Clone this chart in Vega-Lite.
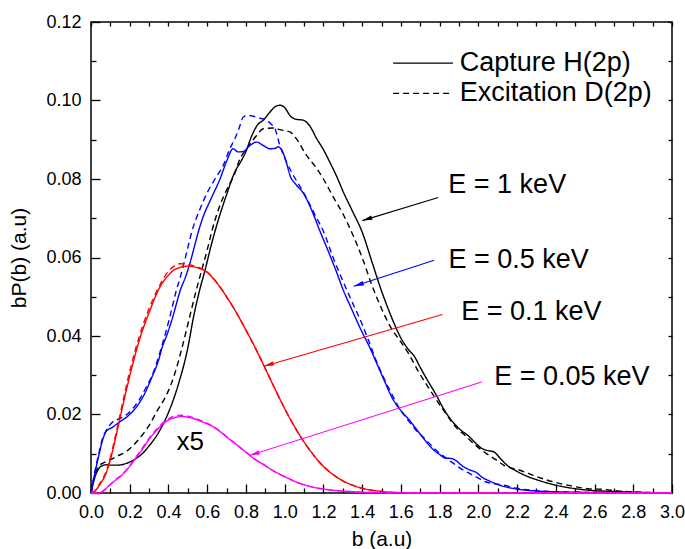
{
  "$schema": "https://vega.github.io/schema/vega-lite/v6.json",
  "autosize": {"type": "none"},
  "width": 581,
  "height": 471,
  "padding": {"left": 91, "top": 22, "right": 13, "bottom": 56},
  "background": "white",
  "config": {
    "font": "Liberation Sans",
    "view": {"stroke": "black", "strokeWidth": 1.5},
    "axis": {"grid": false, "domain": false, "tickColor": "black", "tickWidth": 1.3, "labelColor": "black", "titleColor": "black", "labelFont": "Liberation Sans", "titleFont": "Liberation Sans", "titleFontWeight": "normal"}
  },
  "datasets": {
    "curves": [
      {"E":"1 keV","type":"Capture","b":0.00,"y":0.0000},{"E":"1 keV","type":"Capture","b":0.02,"y":0.0040},{"E":"1 keV","type":"Capture","b":0.04,"y":0.0062},{"E":"1 keV","type":"Capture","b":0.06,"y":0.0070},{"E":"1 keV","type":"Capture","b":0.08,"y":0.0072},{"E":"1 keV","type":"Capture","b":0.10,"y":0.0071},{"E":"1 keV","type":"Capture","b":0.14,"y":0.0071},{"E":"1 keV","type":"Capture","b":0.18,"y":0.0075},{"E":"1 keV","type":"Capture","b":0.22,"y":0.0084},{"E":"1 keV","type":"Capture","b":0.26,"y":0.0098},{"E":"1 keV","type":"Capture","b":0.30,"y":0.0120},{"E":"1 keV","type":"Capture","b":0.35,"y":0.0155},{"E":"1 keV","type":"Capture","b":0.40,"y":0.0205},{"E":"1 keV","type":"Capture","b":0.45,"y":0.0275},{"E":"1 keV","type":"Capture","b":0.50,"y":0.0370},{"E":"1 keV","type":"Capture","b":0.53,"y":0.0450},{"E":"1 keV","type":"Capture","b":0.56,"y":0.0515},{"E":"1 keV","type":"Capture","b":0.59,"y":0.0570},{"E":"1 keV","type":"Capture","b":0.62,"y":0.0630},{"E":"1 keV","type":"Capture","b":0.66,"y":0.0700},{"E":"1 keV","type":"Capture","b":0.70,"y":0.0760},{"E":"1 keV","type":"Capture","b":0.74,"y":0.0815},{"E":"1 keV","type":"Capture","b":0.78,"y":0.0850},{"E":"1 keV","type":"Capture","b":0.80,"y":0.0870},{"E":"1 keV","type":"Capture","b":0.83,"y":0.0910},{"E":"1 keV","type":"Capture","b":0.86,"y":0.0938},{"E":"1 keV","type":"Capture","b":0.89,"y":0.0950},{"E":"1 keV","type":"Capture","b":0.92,"y":0.0968},{"E":"1 keV","type":"Capture","b":0.95,"y":0.0984},{"E":"1 keV","type":"Capture","b":0.975,"y":0.0988},{"E":"1 keV","type":"Capture","b":1.00,"y":0.0982},{"E":"1 keV","type":"Capture","b":1.03,"y":0.0960},{"E":"1 keV","type":"Capture","b":1.06,"y":0.0952},{"E":"1 keV","type":"Capture","b":1.095,"y":0.0950},{"E":"1 keV","type":"Capture","b":1.13,"y":0.0935},{"E":"1 keV","type":"Capture","b":1.165,"y":0.0903},{"E":"1 keV","type":"Capture","b":1.20,"y":0.0875},{"E":"1 keV","type":"Capture","b":1.233,"y":0.0843},{"E":"1 keV","type":"Capture","b":1.27,"y":0.0805},{"E":"1 keV","type":"Capture","b":1.30,"y":0.0770},{"E":"1 keV","type":"Capture","b":1.35,"y":0.0718},{"E":"1 keV","type":"Capture","b":1.40,"y":0.0665},{"E":"1 keV","type":"Capture","b":1.45,"y":0.0590},{"E":"1 keV","type":"Capture","b":1.50,"y":0.0515},{"E":"1 keV","type":"Capture","b":1.55,"y":0.0450},{"E":"1 keV","type":"Capture","b":1.60,"y":0.0395},{"E":"1 keV","type":"Capture","b":1.64,"y":0.0365},{"E":"1 keV","type":"Capture","b":1.67,"y":0.0348},{"E":"1 keV","type":"Capture","b":1.70,"y":0.0320},{"E":"1 keV","type":"Capture","b":1.74,"y":0.0285},{"E":"1 keV","type":"Capture","b":1.78,"y":0.0252},{"E":"1 keV","type":"Capture","b":1.82,"y":0.0215},{"E":"1 keV","type":"Capture","b":1.87,"y":0.0180},{"E":"1 keV","type":"Capture","b":1.91,"y":0.0160},{"E":"1 keV","type":"Capture","b":1.95,"y":0.0145},{"E":"1 keV","type":"Capture","b":1.99,"y":0.0125},{"E":"1 keV","type":"Capture","b":2.02,"y":0.0113},{"E":"1 keV","type":"Capture","b":2.05,"y":0.0108},{"E":"1 keV","type":"Capture","b":2.08,"y":0.0105},{"E":"1 keV","type":"Capture","b":2.11,"y":0.0090},{"E":"1 keV","type":"Capture","b":2.15,"y":0.0070},{"E":"1 keV","type":"Capture","b":2.20,"y":0.0055},{"E":"1 keV","type":"Capture","b":2.25,"y":0.0043},{"E":"1 keV","type":"Capture","b":2.30,"y":0.0034},{"E":"1 keV","type":"Capture","b":2.40,"y":0.0020},{"E":"1 keV","type":"Capture","b":2.50,"y":0.0011},{"E":"1 keV","type":"Capture","b":2.60,"y":0.0006},{"E":"1 keV","type":"Capture","b":2.70,"y":0.0004},{"E":"1 keV","type":"Capture","b":2.80,"y":0.0002},{"E":"1 keV","type":"Capture","b":2.90,"y":0.0001},{"E":"1 keV","type":"Capture","b":3.00,"y":0.0000},

      {"E":"1 keV","type":"Excitation","b":0.00,"y":0.0000},{"E":"1 keV","type":"Excitation","b":0.02,"y":0.0045},{"E":"1 keV","type":"Excitation","b":0.04,"y":0.0068},{"E":"1 keV","type":"Excitation","b":0.07,"y":0.0078},{"E":"1 keV","type":"Excitation","b":0.10,"y":0.0085},{"E":"1 keV","type":"Excitation","b":0.14,"y":0.0095},{"E":"1 keV","type":"Excitation","b":0.18,"y":0.0105},{"E":"1 keV","type":"Excitation","b":0.22,"y":0.0122},{"E":"1 keV","type":"Excitation","b":0.26,"y":0.0145},{"E":"1 keV","type":"Excitation","b":0.30,"y":0.0172},{"E":"1 keV","type":"Excitation","b":0.34,"y":0.0208},{"E":"1 keV","type":"Excitation","b":0.39,"y":0.0250},{"E":"1 keV","type":"Excitation","b":0.43,"y":0.0300},{"E":"1 keV","type":"Excitation","b":0.47,"y":0.0370},{"E":"1 keV","type":"Excitation","b":0.51,"y":0.0450},{"E":"1 keV","type":"Excitation","b":0.54,"y":0.0510},{"E":"1 keV","type":"Excitation","b":0.57,"y":0.0565},{"E":"1 keV","type":"Excitation","b":0.60,"y":0.0619},{"E":"1 keV","type":"Excitation","b":0.623,"y":0.0665},{"E":"1 keV","type":"Excitation","b":0.66,"y":0.0725},{"E":"1 keV","type":"Excitation","b":0.70,"y":0.0772},{"E":"1 keV","type":"Excitation","b":0.743,"y":0.0815},{"E":"1 keV","type":"Excitation","b":0.768,"y":0.0850},{"E":"1 keV","type":"Excitation","b":0.80,"y":0.0875},{"E":"1 keV","type":"Excitation","b":0.83,"y":0.0895},{"E":"1 keV","type":"Excitation","b":0.855,"y":0.0911},{"E":"1 keV","type":"Excitation","b":0.889,"y":0.0928},{"E":"1 keV","type":"Excitation","b":0.94,"y":0.0930},{"E":"1 keV","type":"Excitation","b":0.98,"y":0.0925},{"E":"1 keV","type":"Excitation","b":1.027,"y":0.0920},{"E":"1 keV","type":"Excitation","b":1.06,"y":0.0903},{"E":"1 keV","type":"Excitation","b":1.113,"y":0.0860},{"E":"1 keV","type":"Excitation","b":1.165,"y":0.0827},{"E":"1 keV","type":"Excitation","b":1.20,"y":0.0800},{"E":"1 keV","type":"Excitation","b":1.25,"y":0.0755},{"E":"1 keV","type":"Excitation","b":1.30,"y":0.0712},{"E":"1 keV","type":"Excitation","b":1.35,"y":0.0660},{"E":"1 keV","type":"Excitation","b":1.40,"y":0.0600},{"E":"1 keV","type":"Excitation","b":1.45,"y":0.0530},{"E":"1 keV","type":"Excitation","b":1.50,"y":0.0470},{"E":"1 keV","type":"Excitation","b":1.55,"y":0.0420},{"E":"1 keV","type":"Excitation","b":1.60,"y":0.0385},{"E":"1 keV","type":"Excitation","b":1.64,"y":0.0355},{"E":"1 keV","type":"Excitation","b":1.69,"y":0.0310},{"E":"1 keV","type":"Excitation","b":1.76,"y":0.0255},{"E":"1 keV","type":"Excitation","b":1.83,"y":0.0204},{"E":"1 keV","type":"Excitation","b":1.88,"y":0.0170},{"E":"1 keV","type":"Excitation","b":1.935,"y":0.0145},{"E":"1 keV","type":"Excitation","b":1.99,"y":0.0120},{"E":"1 keV","type":"Excitation","b":2.04,"y":0.0101},{"E":"1 keV","type":"Excitation","b":2.09,"y":0.0085},{"E":"1 keV","type":"Excitation","b":2.13,"y":0.0071},{"E":"1 keV","type":"Excitation","b":2.215,"y":0.0058},{"E":"1 keV","type":"Excitation","b":2.30,"y":0.0042},{"E":"1 keV","type":"Excitation","b":2.39,"y":0.0028},{"E":"1 keV","type":"Excitation","b":2.48,"y":0.0018},{"E":"1 keV","type":"Excitation","b":2.565,"y":0.0011},{"E":"1 keV","type":"Excitation","b":2.65,"y":0.0009},{"E":"1 keV","type":"Excitation","b":2.72,"y":0.0005},{"E":"1 keV","type":"Excitation","b":2.80,"y":0.0003},{"E":"1 keV","type":"Excitation","b":2.90,"y":0.0001},{"E":"1 keV","type":"Excitation","b":3.00,"y":0.0000},

      {"E":"0.5 keV","type":"Capture","b":0.00,"y":0.0000},{"E":"0.5 keV","type":"Capture","b":0.02,"y":0.0050},{"E":"0.5 keV","type":"Capture","b":0.04,"y":0.0095},{"E":"0.5 keV","type":"Capture","b":0.06,"y":0.0135},{"E":"0.5 keV","type":"Capture","b":0.08,"y":0.0158},{"E":"0.5 keV","type":"Capture","b":0.11,"y":0.0167},{"E":"0.5 keV","type":"Capture","b":0.145,"y":0.0180},{"E":"0.5 keV","type":"Capture","b":0.18,"y":0.0192},{"E":"0.5 keV","type":"Capture","b":0.21,"y":0.0205},{"E":"0.5 keV","type":"Capture","b":0.25,"y":0.0230},{"E":"0.5 keV","type":"Capture","b":0.28,"y":0.0256},{"E":"0.5 keV","type":"Capture","b":0.31,"y":0.0290},{"E":"0.5 keV","type":"Capture","b":0.35,"y":0.0340},{"E":"0.5 keV","type":"Capture","b":0.37,"y":0.0375},{"E":"0.5 keV","type":"Capture","b":0.39,"y":0.0400},{"E":"0.5 keV","type":"Capture","b":0.42,"y":0.0445},{"E":"0.5 keV","type":"Capture","b":0.44,"y":0.0480},{"E":"0.5 keV","type":"Capture","b":0.46,"y":0.0515},{"E":"0.5 keV","type":"Capture","b":0.49,"y":0.0553},{"E":"0.5 keV","type":"Capture","b":0.51,"y":0.0584},{"E":"0.5 keV","type":"Capture","b":0.535,"y":0.0630},{"E":"0.5 keV","type":"Capture","b":0.554,"y":0.0665},{"E":"0.5 keV","type":"Capture","b":0.58,"y":0.0705},{"E":"0.5 keV","type":"Capture","b":0.62,"y":0.0750},{"E":"0.5 keV","type":"Capture","b":0.666,"y":0.0800},{"E":"0.5 keV","type":"Capture","b":0.70,"y":0.0845},{"E":"0.5 keV","type":"Capture","b":0.734,"y":0.0877},{"E":"0.5 keV","type":"Capture","b":0.76,"y":0.0869},{"E":"0.5 keV","type":"Capture","b":0.786,"y":0.0870},{"E":"0.5 keV","type":"Capture","b":0.82,"y":0.0885},{"E":"0.5 keV","type":"Capture","b":0.855,"y":0.0894},{"E":"0.5 keV","type":"Capture","b":0.89,"y":0.0885},{"E":"0.5 keV","type":"Capture","b":0.924,"y":0.0877},{"E":"0.5 keV","type":"Capture","b":0.95,"y":0.0878},{"E":"0.5 keV","type":"Capture","b":0.966,"y":0.0882},{"E":"0.5 keV","type":"Capture","b":0.99,"y":0.0869},{"E":"0.5 keV","type":"Capture","b":1.01,"y":0.0840},{"E":"0.5 keV","type":"Capture","b":1.027,"y":0.0810},{"E":"0.5 keV","type":"Capture","b":1.06,"y":0.0785},{"E":"0.5 keV","type":"Capture","b":1.095,"y":0.0765},{"E":"0.5 keV","type":"Capture","b":1.14,"y":0.0720},{"E":"0.5 keV","type":"Capture","b":1.18,"y":0.0670},{"E":"0.5 keV","type":"Capture","b":1.23,"y":0.0610},{"E":"0.5 keV","type":"Capture","b":1.27,"y":0.0560},{"E":"0.5 keV","type":"Capture","b":1.30,"y":0.0520},{"E":"0.5 keV","type":"Capture","b":1.34,"y":0.0475},{"E":"0.5 keV","type":"Capture","b":1.39,"y":0.0420},{"E":"0.5 keV","type":"Capture","b":1.44,"y":0.0370},{"E":"0.5 keV","type":"Capture","b":1.48,"y":0.0325},{"E":"0.5 keV","type":"Capture","b":1.52,"y":0.0280},{"E":"0.5 keV","type":"Capture","b":1.55,"y":0.0247},{"E":"0.5 keV","type":"Capture","b":1.60,"y":0.0210},{"E":"0.5 keV","type":"Capture","b":1.64,"y":0.0188},{"E":"0.5 keV","type":"Capture","b":1.70,"y":0.0150},{"E":"0.5 keV","type":"Capture","b":1.76,"y":0.0114},{"E":"0.5 keV","type":"Capture","b":1.80,"y":0.0098},{"E":"0.5 keV","type":"Capture","b":1.83,"y":0.0089},{"E":"0.5 keV","type":"Capture","b":1.86,"y":0.0088},{"E":"0.5 keV","type":"Capture","b":1.88,"y":0.0084},{"E":"0.5 keV","type":"Capture","b":1.92,"y":0.0068},{"E":"0.5 keV","type":"Capture","b":1.95,"y":0.0060},{"E":"0.5 keV","type":"Capture","b":1.99,"y":0.0052},{"E":"0.5 keV","type":"Capture","b":2.02,"y":0.0040},{"E":"0.5 keV","type":"Capture","b":2.06,"y":0.0030},{"E":"0.5 keV","type":"Capture","b":2.13,"y":0.0017},{"E":"0.5 keV","type":"Capture","b":2.20,"y":0.0010},{"E":"0.5 keV","type":"Capture","b":2.30,"y":0.0005},{"E":"0.5 keV","type":"Capture","b":2.50,"y":0.0002},{"E":"0.5 keV","type":"Capture","b":2.70,"y":0.0001},{"E":"0.5 keV","type":"Capture","b":3.00,"y":0.0000},

      {"E":"0.5 keV","type":"Excitation","b":0.00,"y":0.0000},{"E":"0.5 keV","type":"Excitation","b":0.02,"y":0.0055},{"E":"0.5 keV","type":"Excitation","b":0.04,"y":0.0100},{"E":"0.5 keV","type":"Excitation","b":0.06,"y":0.0140},{"E":"0.5 keV","type":"Excitation","b":0.08,"y":0.0160},{"E":"0.5 keV","type":"Excitation","b":0.11,"y":0.0180},{"E":"0.5 keV","type":"Excitation","b":0.15,"y":0.0190},{"E":"0.5 keV","type":"Excitation","b":0.18,"y":0.0198},{"E":"0.5 keV","type":"Excitation","b":0.21,"y":0.0212},{"E":"0.5 keV","type":"Excitation","b":0.25,"y":0.0238},{"E":"0.5 keV","type":"Excitation","b":0.28,"y":0.0265},{"E":"0.5 keV","type":"Excitation","b":0.32,"y":0.0305},{"E":"0.5 keV","type":"Excitation","b":0.36,"y":0.0365},{"E":"0.5 keV","type":"Excitation","b":0.40,"y":0.0435},{"E":"0.5 keV","type":"Excitation","b":0.42,"y":0.0475},{"E":"0.5 keV","type":"Excitation","b":0.44,"y":0.0515},{"E":"0.5 keV","type":"Excitation","b":0.46,"y":0.0548},{"E":"0.5 keV","type":"Excitation","b":0.476,"y":0.0578},{"E":"0.5 keV","type":"Excitation","b":0.50,"y":0.0625},{"E":"0.5 keV","type":"Excitation","b":0.52,"y":0.0665},{"E":"0.5 keV","type":"Excitation","b":0.56,"y":0.0720},{"E":"0.5 keV","type":"Excitation","b":0.60,"y":0.0765},{"E":"0.5 keV","type":"Excitation","b":0.64,"y":0.0800},{"E":"0.5 keV","type":"Excitation","b":0.683,"y":0.0835},{"E":"0.5 keV","type":"Excitation","b":0.717,"y":0.0877},{"E":"0.5 keV","type":"Excitation","b":0.743,"y":0.0903},{"E":"0.5 keV","type":"Excitation","b":0.765,"y":0.0930},{"E":"0.5 keV","type":"Excitation","b":0.786,"y":0.0958},{"E":"0.5 keV","type":"Excitation","b":0.81,"y":0.0962},{"E":"0.5 keV","type":"Excitation","b":0.837,"y":0.0960},{"E":"0.5 keV","type":"Excitation","b":0.87,"y":0.0955},{"E":"0.5 keV","type":"Excitation","b":0.906,"y":0.0950},{"E":"0.5 keV","type":"Excitation","b":0.93,"y":0.0940},{"E":"0.5 keV","type":"Excitation","b":0.95,"y":0.0928},{"E":"0.5 keV","type":"Excitation","b":0.975,"y":0.0886},{"E":"0.5 keV","type":"Excitation","b":1.01,"y":0.0843},{"E":"0.5 keV","type":"Excitation","b":1.044,"y":0.0810},{"E":"0.5 keV","type":"Excitation","b":1.08,"y":0.0780},{"E":"0.5 keV","type":"Excitation","b":1.12,"y":0.0745},{"E":"0.5 keV","type":"Excitation","b":1.16,"y":0.0705},{"E":"0.5 keV","type":"Excitation","b":1.20,"y":0.0667},{"E":"0.5 keV","type":"Excitation","b":1.25,"y":0.0600},{"E":"0.5 keV","type":"Excitation","b":1.305,"y":0.0535},{"E":"0.5 keV","type":"Excitation","b":1.35,"y":0.0485},{"E":"0.5 keV","type":"Excitation","b":1.40,"y":0.0430},{"E":"0.5 keV","type":"Excitation","b":1.43,"y":0.0393},{"E":"0.5 keV","type":"Excitation","b":1.47,"y":0.0340},{"E":"0.5 keV","type":"Excitation","b":1.515,"y":0.0290},{"E":"0.5 keV","type":"Excitation","b":1.55,"y":0.0255},{"E":"0.5 keV","type":"Excitation","b":1.585,"y":0.0222},{"E":"0.5 keV","type":"Excitation","b":1.63,"y":0.0190},{"E":"0.5 keV","type":"Excitation","b":1.675,"y":0.0162},{"E":"0.5 keV","type":"Excitation","b":1.73,"y":0.0135},{"E":"0.5 keV","type":"Excitation","b":1.78,"y":0.0110},{"E":"0.5 keV","type":"Excitation","b":1.83,"y":0.0090},{"E":"0.5 keV","type":"Excitation","b":1.87,"y":0.0076},{"E":"0.5 keV","type":"Excitation","b":1.91,"y":0.0062},{"E":"0.5 keV","type":"Excitation","b":1.95,"y":0.0051},{"E":"0.5 keV","type":"Excitation","b":2.00,"y":0.0038},{"E":"0.5 keV","type":"Excitation","b":2.04,"y":0.0028},{"E":"0.5 keV","type":"Excitation","b":2.09,"y":0.0023},{"E":"0.5 keV","type":"Excitation","b":2.13,"y":0.0020},{"E":"0.5 keV","type":"Excitation","b":2.20,"y":0.0012},{"E":"0.5 keV","type":"Excitation","b":2.30,"y":0.0006},{"E":"0.5 keV","type":"Excitation","b":2.50,"y":0.0002},{"E":"0.5 keV","type":"Excitation","b":2.70,"y":0.0001},{"E":"0.5 keV","type":"Excitation","b":3.00,"y":0.0000},

      {"E":"0.1 keV","type":"Capture","b":0.00,"y":0.0000},{"E":"0.1 keV","type":"Capture","b":0.02,"y":0.0005},{"E":"0.1 keV","type":"Capture","b":0.05,"y":0.0025},{"E":"0.1 keV","type":"Capture","b":0.076,"y":0.0048},{"E":"0.1 keV","type":"Capture","b":0.10,"y":0.0085},{"E":"0.1 keV","type":"Capture","b":0.12,"y":0.0125},{"E":"0.1 keV","type":"Capture","b":0.145,"y":0.0180},{"E":"0.1 keV","type":"Capture","b":0.17,"y":0.0235},{"E":"0.1 keV","type":"Capture","b":0.20,"y":0.0298},{"E":"0.1 keV","type":"Capture","b":0.25,"y":0.0390},{"E":"0.1 keV","type":"Capture","b":0.304,"y":0.0465},{"E":"0.1 keV","type":"Capture","b":0.356,"y":0.0525},{"E":"0.1 keV","type":"Capture","b":0.40,"y":0.0555},{"E":"0.1 keV","type":"Capture","b":0.425,"y":0.0567},{"E":"0.1 keV","type":"Capture","b":0.46,"y":0.0575},{"E":"0.1 keV","type":"Capture","b":0.50,"y":0.0578},{"E":"0.1 keV","type":"Capture","b":0.55,"y":0.0574},{"E":"0.1 keV","type":"Capture","b":0.60,"y":0.0562},{"E":"0.1 keV","type":"Capture","b":0.65,"y":0.0535},{"E":"0.1 keV","type":"Capture","b":0.70,"y":0.0500},{"E":"0.1 keV","type":"Capture","b":0.75,"y":0.0460},{"E":"0.1 keV","type":"Capture","b":0.80,"y":0.0415},{"E":"0.1 keV","type":"Capture","b":0.85,"y":0.0368},{"E":"0.1 keV","type":"Capture","b":0.90,"y":0.0317},{"E":"0.1 keV","type":"Capture","b":0.95,"y":0.0265},{"E":"0.1 keV","type":"Capture","b":1.00,"y":0.0215},{"E":"0.1 keV","type":"Capture","b":1.05,"y":0.0170},{"E":"0.1 keV","type":"Capture","b":1.10,"y":0.0130},{"E":"0.1 keV","type":"Capture","b":1.15,"y":0.0096},{"E":"0.1 keV","type":"Capture","b":1.20,"y":0.0068},{"E":"0.1 keV","type":"Capture","b":1.25,"y":0.0047},{"E":"0.1 keV","type":"Capture","b":1.30,"y":0.0031},{"E":"0.1 keV","type":"Capture","b":1.35,"y":0.0020},{"E":"0.1 keV","type":"Capture","b":1.40,"y":0.0012},{"E":"0.1 keV","type":"Capture","b":1.50,"y":0.0004},{"E":"0.1 keV","type":"Capture","b":1.60,"y":0.0001},{"E":"0.1 keV","type":"Capture","b":1.80,"y":0.0000},{"E":"0.1 keV","type":"Capture","b":3.00,"y":0.0000},

      {"E":"0.1 keV","type":"Excitation","b":0.00,"y":0.0000},{"E":"0.1 keV","type":"Excitation","b":0.02,"y":0.0006},{"E":"0.1 keV","type":"Excitation","b":0.05,"y":0.0028},{"E":"0.1 keV","type":"Excitation","b":0.076,"y":0.0052},{"E":"0.1 keV","type":"Excitation","b":0.10,"y":0.0090},{"E":"0.1 keV","type":"Excitation","b":0.12,"y":0.0132},{"E":"0.1 keV","type":"Excitation","b":0.145,"y":0.0188},{"E":"0.1 keV","type":"Excitation","b":0.17,"y":0.0245},{"E":"0.1 keV","type":"Excitation","b":0.20,"y":0.0310},{"E":"0.1 keV","type":"Excitation","b":0.25,"y":0.0400},{"E":"0.1 keV","type":"Excitation","b":0.30,"y":0.0470},{"E":"0.1 keV","type":"Excitation","b":0.356,"y":0.0530},{"E":"0.1 keV","type":"Excitation","b":0.40,"y":0.0565},{"E":"0.1 keV","type":"Excitation","b":0.43,"y":0.0578},{"E":"0.1 keV","type":"Excitation","b":0.46,"y":0.0584},{"E":"0.1 keV","type":"Excitation","b":0.50,"y":0.0582},{"E":"0.1 keV","type":"Excitation","b":0.55,"y":0.0576},{"E":"0.1 keV","type":"Excitation","b":0.60,"y":0.0563},{"E":"0.1 keV","type":"Excitation","b":0.65,"y":0.0536},{"E":"0.1 keV","type":"Excitation","b":0.70,"y":0.0500},{"E":"0.1 keV","type":"Excitation","b":0.75,"y":0.0460},{"E":"0.1 keV","type":"Excitation","b":0.80,"y":0.0415},{"E":"0.1 keV","type":"Excitation","b":0.85,"y":0.0368},{"E":"0.1 keV","type":"Excitation","b":0.90,"y":0.0317},{"E":"0.1 keV","type":"Excitation","b":0.95,"y":0.0265},{"E":"0.1 keV","type":"Excitation","b":1.00,"y":0.0215},{"E":"0.1 keV","type":"Excitation","b":1.05,"y":0.0170},{"E":"0.1 keV","type":"Excitation","b":1.10,"y":0.0130},{"E":"0.1 keV","type":"Excitation","b":1.15,"y":0.0096},{"E":"0.1 keV","type":"Excitation","b":1.20,"y":0.0068},{"E":"0.1 keV","type":"Excitation","b":1.25,"y":0.0047},{"E":"0.1 keV","type":"Excitation","b":1.30,"y":0.0031},{"E":"0.1 keV","type":"Excitation","b":1.35,"y":0.0020},{"E":"0.1 keV","type":"Excitation","b":1.40,"y":0.0012},{"E":"0.1 keV","type":"Excitation","b":1.50,"y":0.0004},{"E":"0.1 keV","type":"Excitation","b":1.60,"y":0.0001},{"E":"0.1 keV","type":"Excitation","b":1.80,"y":0.0000},{"E":"0.1 keV","type":"Excitation","b":3.00,"y":0.0000},

      {"E":"0.05 keV","type":"Capture","b":0.00,"y":0.0000},{"E":"0.05 keV","type":"Capture","b":0.04,"y":0.0000},{"E":"0.05 keV","type":"Capture","b":0.07,"y":0.0008},{"E":"0.05 keV","type":"Capture","b":0.093,"y":0.0019},{"E":"0.05 keV","type":"Capture","b":0.12,"y":0.0030},{"E":"0.05 keV","type":"Capture","b":0.16,"y":0.0046},{"E":"0.05 keV","type":"Capture","b":0.20,"y":0.0068},{"E":"0.05 keV","type":"Capture","b":0.23,"y":0.0088},{"E":"0.05 keV","type":"Capture","b":0.27,"y":0.0115},{"E":"0.05 keV","type":"Capture","b":0.30,"y":0.0137},{"E":"0.05 keV","type":"Capture","b":0.34,"y":0.0160},{"E":"0.05 keV","type":"Capture","b":0.37,"y":0.0175},{"E":"0.05 keV","type":"Capture","b":0.40,"y":0.0186},{"E":"0.05 keV","type":"Capture","b":0.44,"y":0.0193},{"E":"0.05 keV","type":"Capture","b":0.47,"y":0.0195},{"E":"0.05 keV","type":"Capture","b":0.50,"y":0.0193},{"E":"0.05 keV","type":"Capture","b":0.54,"y":0.0188},{"E":"0.05 keV","type":"Capture","b":0.58,"y":0.0180},{"E":"0.05 keV","type":"Capture","b":0.63,"y":0.0169},{"E":"0.05 keV","type":"Capture","b":0.67,"y":0.0155},{"E":"0.05 keV","type":"Capture","b":0.715,"y":0.0137},{"E":"0.05 keV","type":"Capture","b":0.76,"y":0.0120},{"E":"0.05 keV","type":"Capture","b":0.80,"y":0.0104},{"E":"0.05 keV","type":"Capture","b":0.84,"y":0.0088},{"E":"0.05 keV","type":"Capture","b":0.886,"y":0.0074},{"E":"0.05 keV","type":"Capture","b":0.93,"y":0.0060},{"E":"0.05 keV","type":"Capture","b":0.974,"y":0.0048},{"E":"0.05 keV","type":"Capture","b":1.02,"y":0.0037},{"E":"0.05 keV","type":"Capture","b":1.06,"y":0.0028},{"E":"0.05 keV","type":"Capture","b":1.10,"y":0.0021},{"E":"0.05 keV","type":"Capture","b":1.145,"y":0.0015},{"E":"0.05 keV","type":"Capture","b":1.23,"y":0.0008},{"E":"0.05 keV","type":"Capture","b":1.30,"y":0.0005},{"E":"0.05 keV","type":"Capture","b":1.40,"y":0.0002},{"E":"0.05 keV","type":"Capture","b":1.50,"y":0.0001},{"E":"0.05 keV","type":"Capture","b":1.70,"y":0.0000},{"E":"0.05 keV","type":"Capture","b":3.00,"y":0.0000},

      {"E":"0.05 keV","type":"Excitation","b":0.00,"y":0.0000},{"E":"0.05 keV","type":"Excitation","b":0.04,"y":0.0000},{"E":"0.05 keV","type":"Excitation","b":0.07,"y":0.0008},{"E":"0.05 keV","type":"Excitation","b":0.093,"y":0.0019},{"E":"0.05 keV","type":"Excitation","b":0.12,"y":0.0031},{"E":"0.05 keV","type":"Excitation","b":0.16,"y":0.0047},{"E":"0.05 keV","type":"Excitation","b":0.20,"y":0.0070},{"E":"0.05 keV","type":"Excitation","b":0.23,"y":0.0090},{"E":"0.05 keV","type":"Excitation","b":0.27,"y":0.0118},{"E":"0.05 keV","type":"Excitation","b":0.30,"y":0.0140},{"E":"0.05 keV","type":"Excitation","b":0.34,"y":0.0163},{"E":"0.05 keV","type":"Excitation","b":0.37,"y":0.0178},{"E":"0.05 keV","type":"Excitation","b":0.40,"y":0.0189},{"E":"0.05 keV","type":"Excitation","b":0.44,"y":0.0197},{"E":"0.05 keV","type":"Excitation","b":0.47,"y":0.0198},{"E":"0.05 keV","type":"Excitation","b":0.50,"y":0.0196},{"E":"0.05 keV","type":"Excitation","b":0.54,"y":0.0190},{"E":"0.05 keV","type":"Excitation","b":0.58,"y":0.0182},{"E":"0.05 keV","type":"Excitation","b":0.63,"y":0.0170},{"E":"0.05 keV","type":"Excitation","b":0.67,"y":0.0156},{"E":"0.05 keV","type":"Excitation","b":0.715,"y":0.0138},{"E":"0.05 keV","type":"Excitation","b":0.76,"y":0.0120},{"E":"0.05 keV","type":"Excitation","b":0.80,"y":0.0104},{"E":"0.05 keV","type":"Excitation","b":0.84,"y":0.0088},{"E":"0.05 keV","type":"Excitation","b":0.886,"y":0.0074},{"E":"0.05 keV","type":"Excitation","b":0.93,"y":0.0060},{"E":"0.05 keV","type":"Excitation","b":0.974,"y":0.0048},{"E":"0.05 keV","type":"Excitation","b":1.02,"y":0.0037},{"E":"0.05 keV","type":"Excitation","b":1.06,"y":0.0028},{"E":"0.05 keV","type":"Excitation","b":1.10,"y":0.0021},{"E":"0.05 keV","type":"Excitation","b":1.145,"y":0.0015},{"E":"0.05 keV","type":"Excitation","b":1.23,"y":0.0008},{"E":"0.05 keV","type":"Excitation","b":1.30,"y":0.0005},{"E":"0.05 keV","type":"Excitation","b":1.40,"y":0.0002},{"E":"0.05 keV","type":"Excitation","b":1.50,"y":0.0001},{"E":"0.05 keV","type":"Excitation","b":1.70,"y":0.0000},{"E":"0.05 keV","type":"Excitation","b":3.00,"y":0.0000}
    ],
    "arrows": [
      {"E":"1 keV","label":"E = 1 keV","bt":1.793,"yt":0.0753,"bh":1.401,"yh":0.0694,"bl":1.845,"yl":0.0784},
      {"E":"0.5 keV","label":"E = 0.5 keV","bt":1.772,"yt":0.0593,"bh":1.357,"yh":0.0527,"bl":1.846,"yl":0.0593},
      {"E":"0.1 keV","label":"E = 0.1 keV","bt":1.815,"yt":0.0455,"bh":0.893,"yh":0.0323,"bl":1.912,"yl":0.0460},
      {"E":"0.05 keV","label":"E = 0.05 keV","bt":2.017,"yt":0.0283,"bh":0.820,"yh":0.0096,"bl":2.082,"yl":0.0296}
    ],
    "legend": [
      {"type":"Capture","label":"Capture H(2p)","b1":1.560,"b2":1.869,"bl":1.904,"y":0.1095},
      {"type":"Excitation","label":"Excitation D(2p)","b1":1.560,"b2":1.869,"bl":1.904,"y":0.1018}
    ],
    "notes": [
      {"label":"x5","b":0.512,"y":0.0131}
    ]
  },
  "resolve": {"axis": {"x": "independent", "y": "independent"}},
  "layer": [
    {
      "data": {"name": "curves"},
      "mark": {"type": "line", "strokeWidth": 1.4, "interpolate": "monotone"},
      "encoding": {
        "x": {"field": "b", "type": "quantitative", "scale": {"domain": [0, 3], "nice": false},
          "axis": {"orient": "bottom", "title": "b (a.u)", "titleFontSize": 21, "titlePadding": 7, "labelFontSize": 18, "labelPadding": 10, "ticks": false,
            "values": [0,0.2,0.4,0.6,0.8,1.0,1.2,1.4,1.6,1.8,2.0,2.2,2.4,2.6,2.8,3.0], "format": ".1f", "labelFlush": false, "labelOverlap": false}},
        "y": {"field": "y", "type": "quantitative", "scale": {"domain": [0, 0.12], "nice": false},
          "axis": {"orient": "left", "title": "bP(b) (a.u)", "titleFontSize": 21, "titlePadding": 16, "labelFontSize": 18, "labelPadding": 10, "ticks": false,
            "values": [0,0.02,0.04,0.06,0.08,0.10,0.12], "format": ".2f", "labelFlush": false, "labelOverlap": false}},
        "color": {"field": "E", "type": "nominal", "legend": null,
          "scale": {"domain": ["1 keV", "0.5 keV", "0.1 keV", "0.05 keV"], "range": ["#000000", "#0000ff", "#ff0000", "#ff00ff"]}},
        "strokeDash": {"field": "type", "type": "nominal", "legend": null,
          "scale": {"domain": ["Capture", "Excitation"], "range": [[1, 0], [6, 4]]}}
      }
    },
    {
      "data": {"name": "arrows"},
      "mark": {"type": "rule", "strokeWidth": 1.1},
      "encoding": {
        "x": {"field": "bt", "type": "quantitative",
          "axis": {"orient": "bottom", "title": null, "labels": false, "tickSize": 9, "offset": -9,
            "values": [0,0.2,0.4,0.6,0.8,1.0,1.2,1.4,1.6,1.8,2.0,2.2,2.4,2.6,2.8,3.0]}},
        "x2": {"field": "bh"},
        "y": {"field": "yt", "type": "quantitative",
          "axis": {"orient": "left", "title": null, "labels": false, "tickSize": 9, "offset": -9,
            "values": [0,0.02,0.04,0.06,0.08,0.10,0.12]}},
        "y2": {"field": "yh"},
        "color": {"field": "E", "type": "nominal", "legend": null}
      }
    },
    {
      "data": {"name": "arrows"},
      "mark": {"type": "point", "shape": "M0,0L2,-0.45L2,0.45Z", "filled": true, "size": 100, "angle": 343, "opacity": 1},
      "encoding": {
        "x": {"field": "bh", "type": "quantitative",
          "axis": {"orient": "bottom", "title": null, "labels": false, "tickSize": 5, "offset": -5,
            "values": [0.1,0.3,0.5,0.7,0.9,1.1,1.3,1.5,1.7,1.9,2.1,2.3,2.5,2.7,2.9]}},
        "y": {"field": "yh", "type": "quantitative",
          "axis": {"orient": "left", "title": null, "labels": false, "tickSize": 5, "offset": -5,
            "values": [0.01,0.03,0.05,0.07,0.09,0.11]}},
        "color": {"field": "E", "type": "nominal", "legend": null}
      }
    },
    {
      "data": {"name": "arrows"},
      "mark": {"type": "text", "align": "left", "baseline": "middle", "fontSize": 27, "font": "Liberation Sans", "color": "black"},
      "encoding": {
        "x": {"field": "bl", "type": "quantitative",
          "axis": {"orient": "top", "title": null, "labels": false, "tickSize": 4, "offset": -4,
            "values": [0,0.1,0.2,0.3,0.4,0.5,0.6,0.7,0.8,0.9,1.0,1.1,1.2,1.3,1.4,1.5,1.6,1.7,1.8,1.9,2.0,2.1,2.2,2.3,2.4,2.5,2.6,2.7,2.8,2.9,3.0]}},
        "y": {"field": "yl", "type": "quantitative",
          "axis": {"orient": "right", "title": null, "labels": false, "tickSize": 4, "offset": -4,
            "values": [0,0.01,0.02,0.03,0.04,0.05,0.06,0.07,0.08,0.09,0.10,0.11,0.12]}},
        "text": {"field": "label"}
      }
    },
    {
      "data": {"name": "legend"},
      "mark": {"type": "rule", "strokeWidth": 1.2, "color": "black"},
      "encoding": {
        "x": {"field": "b1", "type": "quantitative", "axis": null},
        "x2": {"field": "b2"},
        "y": {"field": "y", "type": "quantitative", "axis": null},
        "strokeDash": {"field": "type", "type": "nominal", "legend": null}
      }
    },
    {
      "data": {"name": "legend"},
      "mark": {"type": "text", "align": "left", "baseline": "middle", "fontSize": 27, "font": "Liberation Sans", "color": "black"},
      "encoding": {
        "x": {"field": "bl", "type": "quantitative", "axis": null},
        "y": {"field": "y", "type": "quantitative", "axis": null},
        "text": {"field": "label"}
      }
    },
    {
      "data": {"name": "notes"},
      "mark": {"type": "text", "align": "center", "baseline": "middle", "fontSize": 26, "font": "Liberation Sans", "color": "black"},
      "encoding": {
        "x": {"field": "b", "type": "quantitative", "axis": null},
        "y": {"field": "y", "type": "quantitative", "axis": null},
        "text": {"field": "label"}
      }
    }
  ]
}
